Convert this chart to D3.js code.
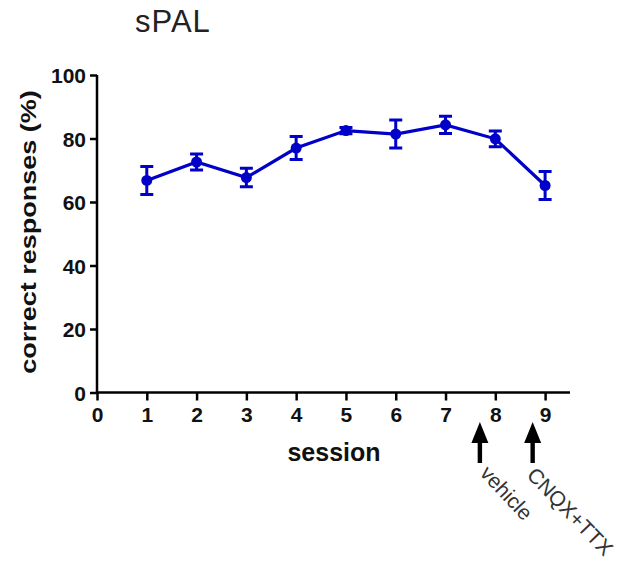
<!DOCTYPE html>
<html>
<head>
<meta charset="utf-8">
<script src="https://cdn.jsdelivr.net/npm/d3@7"></script>
<style>
  body { margin: 0; background: #fff; }
  svg { display: block; font-family: "Liberation Sans", Arial, sans-serif; }
  .axis path, .axis line { stroke: #000; stroke-width: 2.5; }
  .axis text { font-weight: bold; fill: #111; }
</style>
</head>
<body>
<svg width="627" height="565"></svg>
<script>
'use strict';

// sessions and mean +/- error
const sessions = [1, 2, 3, 4, 5, 6, 7, 8, 9];
const meanCorrect = [66.8, 72.6, 67.7, 77.0, 82.5, 81.4, 84.3, 79.9, 65.2];
const errCorrect = [4.4, 2.5, 2.9, 3.6, 1.0, 4.4, 2.7, 2.5, 4.4];
const xTicks = [0, 1, 2, 3, 4, 5, 6, 7, 8, 9];
const yTicks = [0, 20, 40, 60, 80, 100];
// treatment arrows below the x axis
const markers = [
  { label: "vehicle", at: 7.69 },
  { label: "CNQX+TTX", at: 8.75 }
];

const blue = "#0000c8";
const svg = d3.select("svg");

const x = d3.scaleLinear().domain([0, 9.5]).range([97, 570]);
const y = d3.scaleLinear().domain([0, 100]).range([392.5, 75]);

// title
svg.append("text")
  .attr("x", 135).attr("y", 32)
  .style("font-size", "31px").style("letter-spacing", "1px").style("fill", "#222")
  .text("sPAL");

/** axes */
const xAxis = svg.append("g").classed("axis", true)
  .attr("transform", `translate(0,${y(0)})`)
  .call(d3.axisBottom(x).tickValues(xTicks).tickSize(8).tickPadding(7).tickFormat(d3.format("d")));
xAxis.select(".domain").attr("d", `M${x(0) - 1},0H${x(9.5)}`);
xAxis.selectAll("text").style("font-size", "21px");

const yAxis = svg.append("g").classed("axis", true)
  .attr("transform", `translate(${x(0)},0)`)
  .call(d3.axisLeft(y).tickValues(yTicks).tickSize(7).tickPadding(4));
yAxis.select(".domain").attr("d", `M0,${y(100)}V${y(0) + 1}`);
yAxis.selectAll("text").style("font-size", "21px").attr("dy", "0.36em");

svg.append("text")
  .attr("x", 334).attr("y", 461)
  .attr("text-anchor", "middle")
  .style("font-size", "25px").style("font-weight", "bold").style("fill", "#111")
  .text("session");

svg.append("text")
  .attr("transform", "translate(36,232) rotate(-90) scale(1.2,1)")
  .attr("text-anchor", "middle")
  .style("font-size", "22.5px").style("font-weight", "bold").style("fill", "#111")
  .text("correct responses (%)");

/** data: line, error bars, points */
const pts = sessions.map((s, i) => ({ s, m: meanCorrect[i], e: errCorrect[i] }));

svg.append("path")
  .datum(pts)
  .attr("fill", "none").attr("stroke", blue).attr("stroke-width", 3.2)
  .attr("d", d3.line().x(d => x(d.s)).y(d => y(d.m)));

const bars = svg.append("g").attr("stroke", blue).attr("stroke-width", 3);
const capW = 6.5;
bars.selectAll("path")
  .data(pts).enter().append("path")
  .attr("fill", "none")
  .attr("d", d => {
    const cx = x(d.s), t = y(d.m + d.e), b = y(d.m - d.e);
    return `M${cx},${t}V${b}M${cx - capW},${t}H${cx + capW}M${cx - capW},${b}H${cx + capW}`;
  });

svg.append("g").selectAll("circle")
  .data(pts).enter().append("circle")
  .attr("cx", d => x(d.s)).attr("cy", d => y(d.m))
  .attr("r", 5.5).attr("fill", blue);

/** arrows and treatment labels */
const arrows = svg.append("g").selectAll("g")
  .data(markers).enter().append("g")
  .attr("transform", d => `translate(${x(d.at)},0)`);

arrows.append("path")
  .attr("d", "M0,422 L8.5,443 L2.2,443 L2.2,463 L-2.2,463 L-2.2,443 L-8.5,443 Z")
  .attr("fill", "#000");

arrows.append("text")
  .attr("transform", (d, i) => i === 0 ? "translate(-1,474) rotate(47)" : "translate(-7,476) rotate(46)")
  .style("font-size", "21px").style("fill", "#333")
  .text(d => d.label);
</script>
</body>
</html>
